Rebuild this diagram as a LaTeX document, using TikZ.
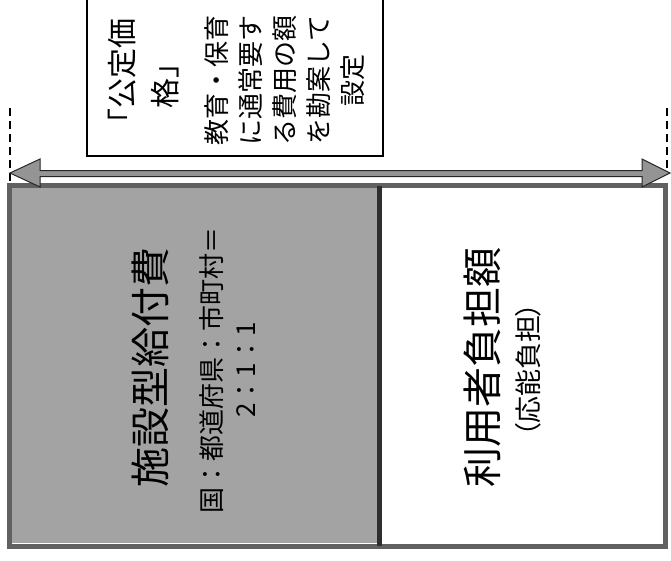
\documentclass[tikz,border=0pt]{standalone}
\usepackage{fontspec}
\setmainfont{Noto Sans CJK JP}
\newfontfamily\jpfont{Noto Sans CJK JP}
\begin{document}
\begin{tikzpicture}[x=1pt,y=-1pt,
  vtext/.style={rotate=90,align=center,inner sep=0pt},
  dashline/.style={line width=1.8pt,dash pattern=on 8pt off 5pt,black},
  framebox/.style={draw=black!62,line width=5pt,inner sep=0pt},
  shade/.style={fill=black!36,draw=none,inner sep=0pt},
  dblarrow/.style={fill=black!42,draw=black!85,line width=1pt,line join=miter}]
\useasboundingbox (0,0) rectangle (671,560);

% price box (top cut off)
\coordinate (pbtl) at (87,0);
\coordinate (pbbl) at (87,156);
\coordinate (pbbr) at (383,156);
\coordinate (pbtr) at (383,0);
\draw[line width=1.6pt,black] (pbtl) -- (pbbl) -- (pbbr) -- (pbtr);
\node[vtext,font={\jpfont\fontsize{30pt}{43pt}\selectfont}] (title) at (143.5,78) {「公定価\\格」};
\node[vtext,font={\jpfont\fontsize{26pt}{34pt}\selectfont}] (desc) at (285,80) {教育・保育\\に通常要す\\る費用の額\\を勘案して\\設定};

% main box
\node[shade,minimum width=367pt,minimum height=355pt] (leftpart) at (195.5,365.5) {};
\node[framebox,minimum width=656pt,minimum height=360.5pt] (mainbox) at (337.5,365.75) {};
\coordinate (divtop) at (379.5,185.5);
\coordinate (divbot) at (379.5,546);
\draw[draw=black!82,line width=5pt] (divtop) -- (divbot);

% left texts
\node[vtext,font={\jpfont\fontsize{40pt}{48pt}\selectfont}] (kyufu) at (150,367) {施設型給付費};
\node[vtext,font={\jpfont\fontsize{26pt}{34pt}\selectfont}] (ratio) at (228,370) {国：都道府県：市町村＝\\2：1：1};

% right texts
\node[vtext,font={\jpfont\fontsize{40pt}{48pt}\selectfont}] (riyou) at (482,367) {利用者負担額};
\node[vtext,font={\jpfont\fontsize{27pt}{32pt}\selectfont}] (ounou) at (528,370) {（\kern-0.06em 応能負担\kern-0.06em）};

% dashed guides
\coordinate (dl1) at (10,108);
\coordinate (dl2) at (10,185);
\coordinate (dr1) at (667,108);
\coordinate (dr2) at (667,175);
\draw[dashline] (dl1) -- (dl2);
\draw[dashline] (dr1) -- (dr2);

% double arrow
\coordinate (tipL) at (10,173);
\coordinate (tipR) at (670,173);
\draw[dblarrow] (tipL) -- (40,159) -- (40,170.5) -- (642,170.5) -- (642,159) -- (tipR)
  -- (642,187) -- (642,176.5) -- (40,176.5) -- (40,187) -- cycle;
\end{tikzpicture}
\end{document}
